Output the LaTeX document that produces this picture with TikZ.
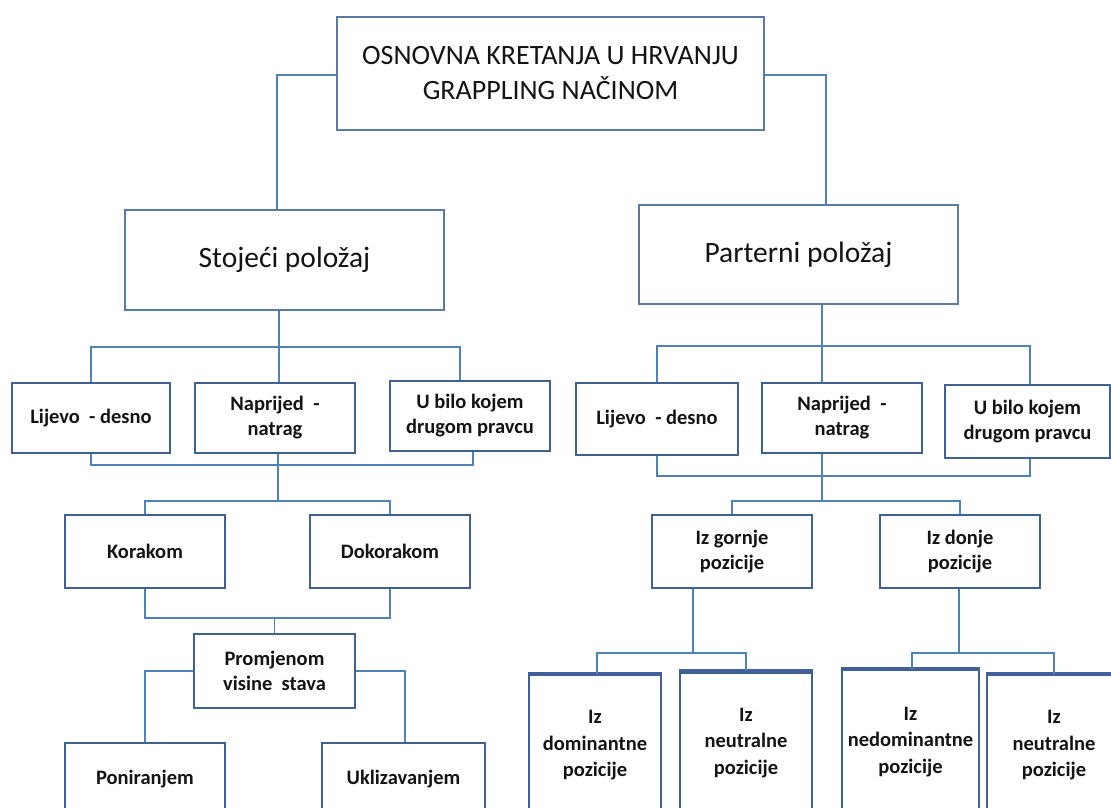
\documentclass[tikz,border=0pt]{standalone}
\usepackage{fontspec}
\setmainfont{Carlito}
\definecolor{boxline}{HTML}{3F6195}
\definecolor{topline}{HTML}{5A7AA8}
\definecolor{connline}{HTML}{4F81BD}
\definecolor{txt}{HTML}{141414}
\tikzset{
  x=1pt, y=-1pt,
  box/.style={draw=boxline, line width=2.2pt, fill=white, inner sep=0pt, align=center, text=txt,
    font=\fontsize{20.5}{25}\selectfont\bfseries},
  bigbox/.style={box, draw=topline, line width=1.3pt},
  conn/.style={draw=connline, line width=1.6pt},
}
\begin{document}
\begin{tikzpicture}
\useasboundingbox (0,0) rectangle (1111,808);
\clip (0,0) rectangle (1111,808);
% top
\node[bigbox, minimum width=427pt, minimum height=113pt,
  font=\fontsize{28}{35}\selectfont] (top) at (550.5,73.5) {OSNOVNA KRETANJA U HRVANJU\\GRAPPLING NAČINOM};
\node[bigbox, minimum width=319pt, minimum height=100pt,
  font=\fontsize{29.5}{32}\selectfont] (stoj) at (284.5,260) {Stojeći položaj};
\node[bigbox, minimum width=319pt, minimum height=99pt,
  font=\fontsize{29.5}{32}\selectfont] (part) at (798.5,254.5) {Parterni položaj};
% level 3
\node[box, minimum width=158pt, minimum height=70pt] (L1) at (91,418) {Lijevo \ - desno};
\node[box, minimum width=160pt, minimum height=70pt] (N1) at (275,418) {Naprijed \ -\\natrag};
\node[box, minimum width=160pt, minimum height=70pt] (U1) at (470,416) {U bilo kojem\\drugom pravcu};
\node[box, minimum width=162pt, minimum height=72pt] (L2) at (657,419) {Lijevo \ - desno};
\node[box, minimum width=160pt, minimum height=70pt] (N2) at (842,418) {Naprijed \ -\\natrag};
\node[box, minimum width=165pt, minimum height=73pt] (U2) at (1027.5,421.5) {U bilo kojem\\drugom pravcu};
% level 4
\node[box, minimum width=160pt, minimum height=73pt] (Kor) at (145,551.5) {Korakom};
\node[box, minimum width=160pt, minimum height=73pt] (Dok) at (390,551.5) {Dokorakom};
\node[box, minimum width=160pt, minimum height=73pt] (Gor) at (732,551.5) {Iz gornje\\pozicije};
\node[box, minimum width=160pt, minimum height=73pt] (Don) at (960,551.5) {Iz donje\\pozicije};
% level 5
\node[box, minimum width=161pt, minimum height=74pt] (Prom) at (274.5,671) {Promjenom\\visine \ stava};
\node[box, minimum width=160pt, minimum height=73pt] (Pon) at (145,779.5) {Poniranjem};
\node[box, minimum width=163pt, minimum height=73pt] (Ukl) at (403.5,779.5) {Uklizavanjem};
\node[box, minimum width=132pt, minimum height=141pt, font=\fontsize{20.5}{26.5}\selectfont\bfseries] (Dom) at (595,745.5) {Iz\\dominantne\\pozicije};
\node[box, minimum width=132pt, minimum height=141pt, font=\fontsize{20.5}{26.5}\selectfont\bfseries] (Neu1) at (746,743) {Iz\\neutralne\\pozicije};
\node[box, minimum width=137pt, minimum height=144pt, font=\fontsize{20.5}{26.5}\selectfont\bfseries] (Ned) at (910.5,742) {Iz\\nedominantne\\pozicije};
\node[box, minimum width=134pt, minimum height=141pt, font=\fontsize{20.5}{26.5}\selectfont\bfseries] (Neu2) at (1054,745.5) {Iz\\neutralne\\pozicije};
% thicker top borders of bottom boxes
\foreach \n in {Dom,Neu1,Ned,Neu2}{
  \draw[boxline, line width=4pt] (\n.north west) -- (\n.north east);
}
% bus coordinates
\coordinate (bA) at (0,75);
\coordinate (bL1) at (0,347);
\coordinate (bL2) at (0,465);
\coordinate (bL3) at (0,501);
\coordinate (bL4) at (0,618);
\coordinate (bR1) at (0,346);
\coordinate (bR2) at (0,476);
\coordinate (bR3) at (0,653);
% top connectors
\draw[conn] (top.west |- bA) -| ([xshift=-7.5pt]stoj.north);
\draw[conn] (top.east |- bA) -| ([xshift=27.5pt]part.north);
% left tree
\draw[conn] ([xshift=-5.5pt]stoj.south) -- ([xshift=4pt]N1.north);
\draw[conn] (L1.north) -- (L1.north |- bL1) -- ([xshift=-10pt]U1.north |- bL1) -- ([xshift=-10pt]U1.north);
\draw[conn] (L1.south) -- (L1.south |- bL2) -- ([xshift=3pt]U1.south |- bL2) -- ([xshift=3pt]U1.south);
\draw[conn] ([xshift=3pt]N1.south) -- ([xshift=3pt]N1.south |- bL3);
\draw[conn] (Kor.north) -- (Kor.north |- bL3) -- (Dok.north |- bL3) -- (Dok.north);
\draw[conn] (Kor.south) -- (Kor.south |- bL4) -- (Dok.south |- bL4) -- (Dok.south);
\draw[conn] (Prom.north |- bL4) -- (Prom.north);
\draw[conn] (Prom.west) -| (Pon.north);
\draw[conn] (Prom.east) -| ([xshift=1.5pt]Ukl.north);
% right tree
\draw[conn] ([xshift=23.5pt]part.south) -- ([xshift=-20pt]N2.north);
\draw[conn] (L2.north) -- (L2.north |- bR1) -- ([xshift=2.5pt]U2.north |- bR1) -- ([xshift=2.5pt]U2.north);
\draw[conn] (L2.south) -- (L2.south |- bR2) -- ([xshift=2.5pt]U2.south |- bR2) -- ([xshift=2.5pt]U2.south);
\draw[conn] ([xshift=-20pt]N2.south) -- ([xshift=-20pt]N2.south |- bL3);
\draw[conn] (Gor.north) -- (Gor.north |- bL3) -- (Don.north |- bL3) -- (Don.north);
\draw[conn] ([xshift=-39pt]Gor.south) -- ([xshift=-39pt]Gor.south |- bR3);
\draw[conn] ([xshift=2pt]Dom.north) -- ([xshift=2pt]Dom.north |- bR3) -- (Neu1.north |- bR3) -- (Neu1.north);
\draw[conn] ([xshift=-1pt]Don.south) -- ([xshift=-1pt]Don.south |- bR3);
\draw[conn] ([xshift=1.5pt]Ned.north) -- ([xshift=1.5pt]Ned.north |- bR3) -- (Neu2.north |- bR3) -- (Neu2.north);
\end{tikzpicture}
\end{document}
